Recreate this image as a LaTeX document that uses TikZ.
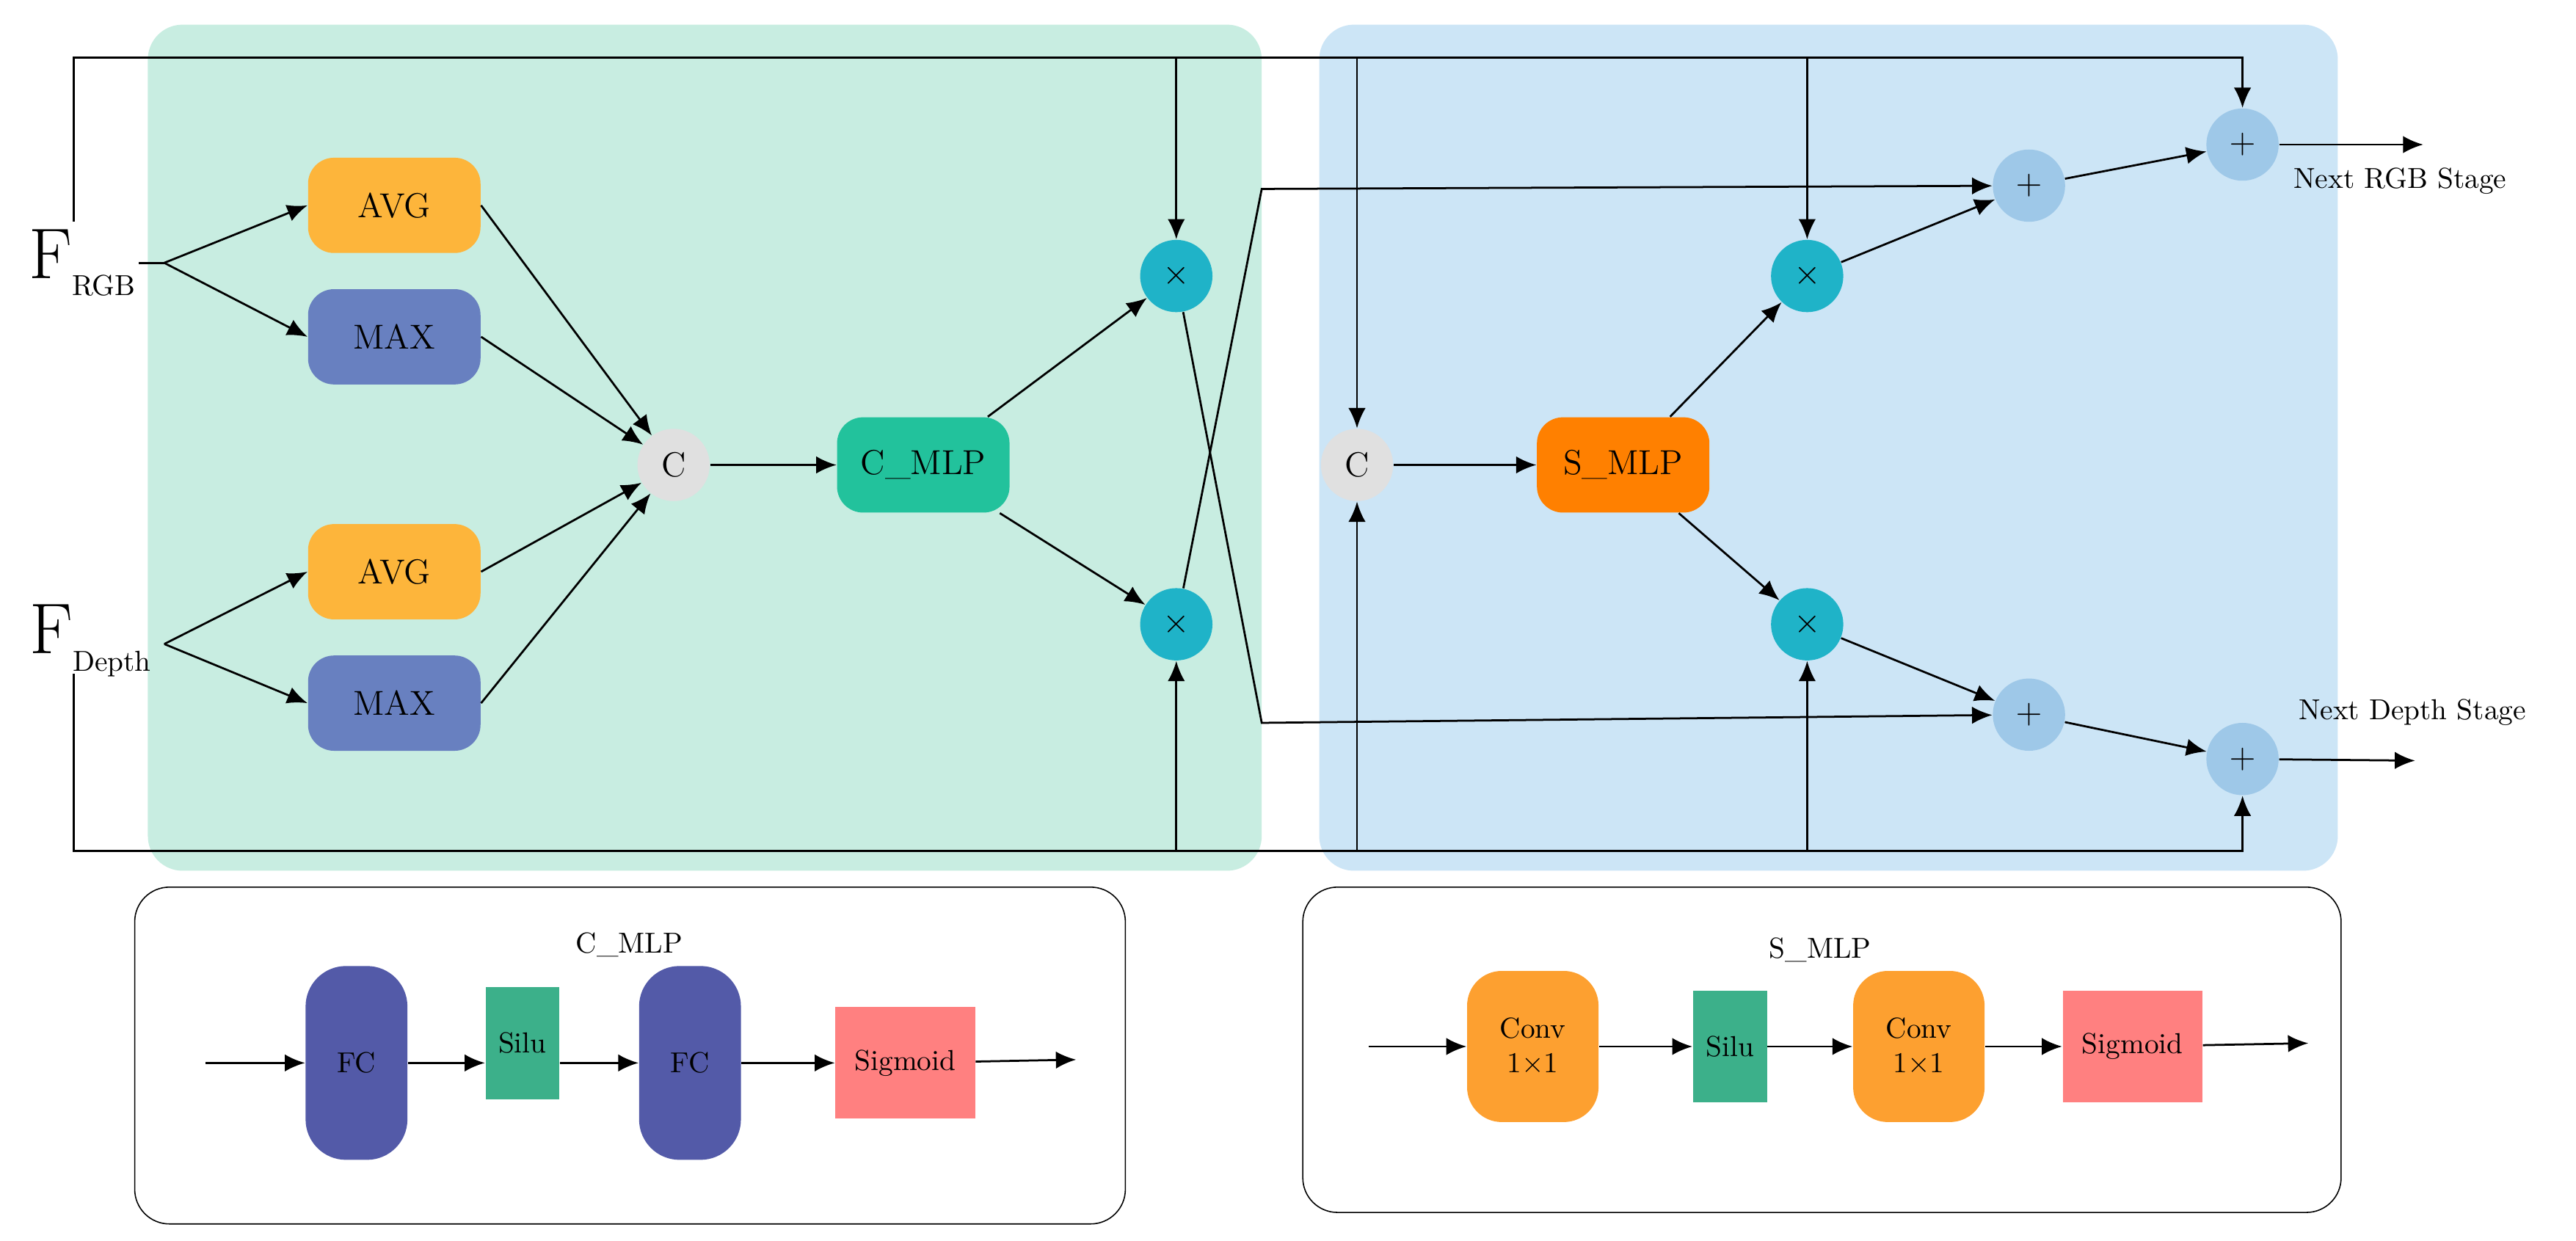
\documentclass[tikz,border=0pt]{standalone}
\usetikzlibrary{arrows.meta}
\definecolor{mintbg}{HTML}{C8EDE1}
\definecolor{bluebg}{HTML}{CCE5F6}
\definecolor{avgc}{HTML}{FDB53B}
\definecolor{maxc}{HTML}{6880C0}
\definecolor{cmlpc}{HTML}{22C29C}
\definecolor{smlpc}{HTML}{FF8000}
\definecolor{mulc}{HTML}{1FB3C8}
\definecolor{addc}{HTML}{9EC8E8}
\definecolor{fcc}{HTML}{535AA8}
\definecolor{siluc}{HTML}{3CB08A}
\definecolor{sigc}{HTML}{FF8080}
\definecolor{convc}{HTML}{FDA030}
\tikzset{blk/.style={rounded corners=9pt,minimum width=2.1cm,minimum height=1.16cm,font=\large}}
\tikzset{op/.style={circle,minimum size=0.88cm,inner sep=0pt,font=\large}}
\tikzset{arr/.style={-{Latex[length=7pt,width=6pt]},line width=0.7pt}}
\tikzset{ln/.style={line width=0.7pt}}
\begin{document}
\begin{tikzpicture}[x=0.02cm,y=-0.02cm]
  \useasboundingbox (0,0) rectangle (1568,755);
  % backgrounds
  \fill[mintbg,rounded corners=12pt] (90,15) rectangle (768,530);
  \fill[bluebg,rounded corners=12pt] (803,15) rectangle (1423,530);
  % inputs
  \node[font=\Huge,inner sep=1pt] (frgb) at (50,160) {F{\normalsize\raisebox{-0.6em}{RGB}}};
  \node[font=\Huge,inner sep=1pt] (fdep) at (55,390) {F{\normalsize\raisebox{-0.6em}{Depth}}};
  \coordinate (rgbsplit) at (100,160);
  \coordinate (depsplit) at (100,392);
  % channel branch
  \node[blk,fill=avgc] (avg1) at (240,125) {AVG};
  \node[blk,fill=maxc] (max1) at (240,205) {MAX};
  \node[blk,fill=avgc] (avg2) at (240,348) {AVG};
  \node[blk,fill=maxc] (max2) at (240,428) {MAX};
  \node[op,fill=black!12] (cat1) at (410,283) {C};
  \node[blk,fill=cmlpc] (cmlp) at (562,283) {C\_MLP};
  \node[op,fill=mulc] (mul1) at (716,168) {$\times$};
  \node[op,fill=mulc] (mul2) at (716,380) {$\times$};
  % spatial branch
  \node[op,fill=black!12] (cat2) at (826,283) {C};
  \node[blk,fill=smlpc] (smlp) at (988,283) {S\_MLP};
  \node[op,fill=mulc] (mul3) at (1100,168) {$\times$};
  \node[op,fill=mulc] (mul4) at (1100,380) {$\times$};
  \node[op,fill=addc] (add1) at (1235,113) {$+$};
  \node[op,fill=addc] (add2) at (1235,435) {$+$};
  \node[op,fill=addc] (add3) at (1365,88) {$+$};
  \node[op,fill=addc] (add4) at (1365,462) {$+$};
  \coordinate (outr) at (1475,88);
  \coordinate (outd) at (1470,463);
  \node[anchor=north west] (nrgb) at (1390,96) {Next RGB Stage};
  \node[anchor=south west] (ndep) at (1393,448) {Next Depth Stage};
  % skip lines
  \coordinate (tl) at (45,35);
  \coordinate (bl) at (45,518);
  \draw[arr] (45,135) -- (tl) -| (add3);
  \draw[arr] (mul1 |- tl) -- (mul1);
  \draw[arr] (cat2 |- tl) -- (cat2);
  \draw[arr] (mul3 |- tl) -- (mul3);
  \draw[arr] (45,410) -- (bl) -| (add4);
  \draw[arr] (mul2 |- bl) -- (mul2);
  \draw[arr] (cat2 |- bl) -- (cat2);
  \draw[arr] (mul4 |- bl) -- (mul4);
  % flow
  \draw[ln] (frgb.east) -- (rgbsplit);
  \draw[arr] (rgbsplit) -- (avg1.west);
  \draw[arr] (rgbsplit) -- (max1.west);
  \draw[arr] (depsplit) -- (avg2.west);
  \draw[arr] (depsplit) -- (max2.west);
  \foreach \n in {avg1,max1,avg2,max2} \draw[arr] (\n.east) -- (cat1);
  \draw[arr] (cat1) -- (cmlp);
  \draw[arr] (cmlp) -- (mul1);
  \draw[arr] (cmlp) -- (mul2);
  \draw[arr] (mul1) -- (768,440) -- (add2);
  \draw[arr] (mul2) -- (768,115) -- (add1);
  \draw[arr] (cat2) -- (smlp);
  \draw[arr] (smlp) -- (mul3);
  \draw[arr] (smlp) -- (mul4);
  \draw[arr] (mul3) -- (add1);
  \draw[arr] (mul4) -- (add2);
  \draw[arr] (add1) -- (add3);
  \draw[arr] (add2) -- (add4);
  \draw[arr] (add3) -- (outr);
  \draw[arr] (add4) -- (outd);
  % C_MLP detail
  \draw[rounded corners=12pt] (82,540) rectangle (685,745);
  \node (tcm) at (383,575) {C\_MLP};
  \coordinate (cin) at (125,647);
  \coordinate (cout) at (655,645);
  \node[fill=fcc,rounded corners=14pt,minimum width=1.24cm,minimum height=2.36cm] (fc1) at (217,647) {FC};
  \node[fill=siluc,minimum width=0.9cm,minimum height=1.36cm] (silu1) at (318,635) {Silu};
  \node[fill=fcc,rounded corners=14pt,minimum width=1.24cm,minimum height=2.36cm] (fc2) at (420,647) {FC};
  \node[fill=sigc,minimum width=1.7cm,minimum height=1.36cm] (sig1) at (551,647) {Sigmoid};
  \draw[arr] (cin) -- (fc1);
  \draw[arr] (fc1) -- (silu1.west |- fc1);
  \draw[arr] (silu1.east |- fc2) -- (fc2);
  \draw[arr] (fc2) -- (sig1);
  \draw[arr] (sig1) -- (cout);
  % S_MLP detail
  \draw[rounded corners=12pt] (793,540) rectangle (1425,738);
  \node (tsm) at (1108,578) {S\_MLP};
  \coordinate (sin) at (833,637);
  \coordinate (sout) at (1405,635);
  \node[fill=convc,rounded corners=12pt,minimum width=1.6cm,minimum height=1.84cm,align=center] (cv1) at (933,637) {Conv\\1$\times$1};
  \node[fill=siluc,minimum width=0.9cm,minimum height=1.36cm] (silu2) at (1053,637) {Silu};
  \node[fill=convc,rounded corners=12pt,minimum width=1.6cm,minimum height=1.84cm,align=center] (cv2) at (1168,637) {Conv\\1$\times$1};
  \node[fill=sigc,minimum width=1.7cm,minimum height=1.36cm] (sig2) at (1298,637) {Sigmoid};
  \draw[arr] (sin) -- (cv1);
  \draw[arr] (cv1) -- (silu2);
  \draw[arr] (silu2) -- (cv2);
  \draw[arr] (cv2) -- (sig2);
  \draw[arr] (sig2) -- (sout);
\end{tikzpicture}
\end{document}
